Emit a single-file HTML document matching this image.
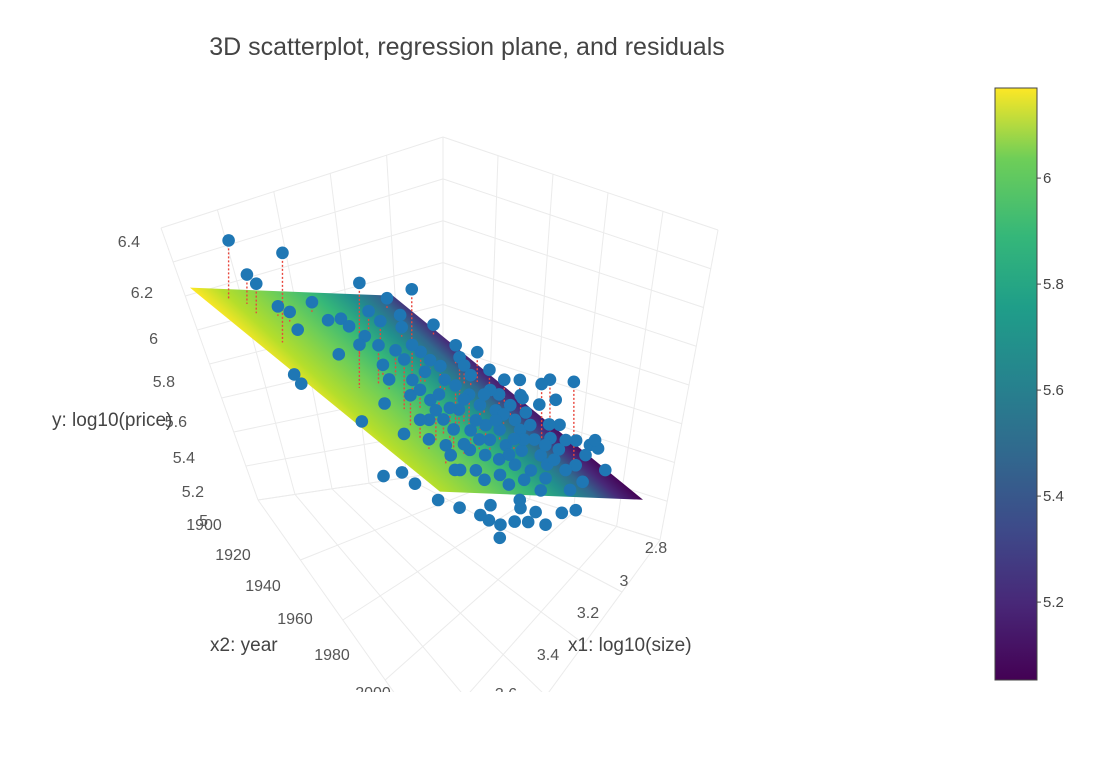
<!DOCTYPE html>
<html><head><meta charset="utf-8"><style>
html,body{margin:0;padding:0;background:#fff;}
svg{display:block;font-family:"Liberation Sans",sans-serif;}
</style></head><body>
<svg id="chart" width="1110" height="774" viewBox="0 0 1110 774" xmlns="http://www.w3.org/2000/svg">
<defs>
<clipPath id="sceneClip"><rect x="0" y="70" width="960" height="622"/></clipPath>
<linearGradient id="cbGrad" x1="0" y1="1" x2="0" y2="0">
<stop offset="0" stop-color="#440154"/><stop offset="0.13" stop-color="#482878"/><stop offset="0.25" stop-color="#3e4989"/><stop offset="0.38" stop-color="#31688e"/><stop offset="0.5" stop-color="#26828e"/><stop offset="0.63" stop-color="#1f9e89"/><stop offset="0.75" stop-color="#35b779"/><stop offset="0.88" stop-color="#6ece58"/><stop offset="1" stop-color="#fde725"/>
</linearGradient>
</defs>
<rect x="0" y="0" width="1110" height="774" fill="#fff"/>
<text x="467" y="55" font-size="25" fill="#444" text-anchor="middle">3D scatterplot, regression plane, and residuals</text>
<g id="scene" clip-path="url(#sceneClip)">
<g id="grid" stroke="#ebebeb" stroke-width="1" fill="none"></g>
<polygon id="plane"/>
<g id="resid"></g>
<g id="pts"></g>
</g>
<g font-size="16" fill="#555" text-anchor="end">
<text x="140" y="247">6.4</text><text x="153" y="298">6.2</text><text x="158" y="344">6</text><text x="175" y="387">5.8</text><text x="187" y="427">5.6</text><text x="195" y="463">5.4</text><text x="204" y="497">5.2</text><text x="208" y="526">5</text>
</g>
<text x="52" y="426" font-size="19" fill="#444">y: log10(price)</text>
<g font-size="16" fill="#555" text-anchor="middle">
<text x="204" y="530">1900</text><text x="233" y="560">1920</text><text x="263" y="591">1940</text><text x="295" y="624">1960</text><text x="332" y="660">1980</text><text x="373" y="698">2000</text>
</g>
<text x="210" y="651" font-size="19" fill="#444">x2: year</text>
<g font-size="16" fill="#555" text-anchor="middle">
<text x="656" y="553">2.8</text><text x="624" y="586">3</text><text x="588" y="618">3.2</text><text x="548" y="660">3.4</text><text x="506" y="699">3.6</text>
</g>
<text x="568" y="651" font-size="19" fill="#444">x1: log10(size)</text>
<rect x="0" y="692" width="960" height="82" fill="#fff"/>
<g>
<rect x="995" y="88" width="42" height="592" fill="url(#cbGrad)" stroke="#444" stroke-width="1"/>
<g id="cbticks" font-size="15" fill="#444"></g>
</g>
</svg>
<script>
// regression data (x1 = log10(size), x2 = year, y = log10(price))
const x1 = [3.489,3.428,3.437,3.482,3.351,3.329,3.17,3.354,3.383,2.797,2.919,3.07,3.102,3.169,3.106,3.117,3.018,2.89,2.893,2.732,3.061,2.969,2.8,2.878,3.024,3.119,3.142,3.278,3.191,3.313,3.198,3.551,3.57,3.295,3.358,3.225,3.179,3.161,3.148,3.078,3.153,3.06,2.99,2.915,2.925,2.902,3.023,3.065,3.192,3.348,3.252,3.265,3.437,3.382,3.148,3.042,3.274,3.169,3.127,3.086,3.016,2.889,2.952,2.808,2.801,2.674,2.633,2.617,2.713,2.817,2.892,2.943,3.056,3.096,3.166,3.208,3.266,2.666,2.563,2.687,2.827,2.71,2.824,2.813,3.322,3.234,3.123,2.983,2.877,2.706,2.79,2.805,2.827,3.689,3.607,3.61,3.598,3.513,3.393,3.355,3.352,3.279,3.219,3.152,3.186,3.233,3.356,2.988,3.07,3.503,3.407,3.423,3.41,3.34,2.759,2.801,2.776,
2.995,2.849,2.756,2.979,3.101,2.951,2.835,2.99,3.174,3.272,3.371,3.092,2.936,2.733,2.871,2.72,2.882,3.136,3.223,3.031,3.396,3.326,3.251,2.805,2.702,3.01,3.433,2.61,3.216,3.431];
const x2 = [1906,1908,1913,1929,1914,1917,1911,1923,1953,1907,1930,1926,1917,1918,1921,1929,1926,1922,1923,1921,1948,1956,1947,1949,1953,1950,1945,1951,1934,1937,1945,1941,1946,1964,1973,1964,1964,1966,1972,1971,1974,1974,1974,1970,1976,1976,1979,1977,1983,1991,1977,1972,1978,1964,1953,1948,1982,1983,1985,1988,1988,1981,1990,1980,1983,1978,1980,1982,1986,1992,1995,1992,1996,1993,1993,1991,1990,1961,1958,1972,1973,1958,1959,1954,2002,2004,2007,2006,2001,1994,1978,1990,1978,1994,1994,2000,2009,2010,2011,2012,2012,2011,2011,2012,2011,2009,2008,2009,2011,1966,1986,1995,2000,2000,1962,1959,1966,
1952,1949,1948,1944,1971,1965,1965,1974,1985,1988,1992,1990,1981,1972,1984,1978,1989,2001,1999,2000,1981,1981,1953,1938,1956,1984,2000,1980,2007,2011];
const yv = [6.326,6.129,6.118,6.381,5.952,5.925,5.823,5.89,6.29,5.547,5.799,5.785,5.726,5.773,5.713,5.716,5.699,5.613,5.563,5.446,5.699,5.647,5.5,5.505,5.63,5.785,5.75,5.905,5.756,5.815,5.722,5.915,5.911,5.918,5.84,5.722,5.639,5.663,5.727,5.627,5.627,5.58,5.503,5.408,5.42,5.355,5.462,5.503,5.603,5.764,5.668,5.65,5.74,5.772,5.655,5.59,5.765,5.634,5.521,5.48,5.403,5.326,5.344,5.268,5.225,5.148,5.107,5.089,5.149,5.208,5.256,5.304,5.38,5.421,5.498,5.539,5.601,5.225,5.156,5.201,5.308,5.272,5.379,5.366,5.562,5.485,5.391,5.285,5.22,5.114,5.523,5.586,5.529,5.808,5.765,5.745,5.705,5.611,5.468,5.362,5.422,5.378,5.332,5.275,5.355,5.398,5.497,5.208,5.266,5.786,5.734,5.764,5.663,5.61,5.343,5.432,5.294,
5.538,5.437,5.389,5.578,5.621,5.503,5.367,5.456,5.557,5.622,5.663,5.45,5.361,5.237,5.302,5.184,5.267,5.42,5.497,5.345,5.793,5.787,5.733,5.49,5.343,5.433,5.68,5.113,5.414,5.521];
// fitted plane coefficients: yhat = b0 + b1*x1 + b2*x2
const coef = [10.259, 0.778, -0.003636];
const x1Range = [2.7, 3.6];
const x2Range = [1900, 2010];
const cbTicks = [5.2, 5.4, 5.6, 5.8, 6];
const cbRange = [5.053, 6.17];

const NS = 'http://www.w3.org/2000/svg';
function yhat(a, b) { return coef[0] + coef[1]*a + coef[2]*b; }
function proj(a, b, c) {
  const da = a - 2.7, db = b - 2010, dc = c - 5.05;
  return [643 + da*(-225.6) + db*2.273, 500 + da*154.4 + db*1.091 - dc*210];
}
function mk(tag, attrs) { const e = document.createElementNS(NS, tag); for (const k in attrs) e.setAttribute(k, attrs[k]); return e; }

const grid = document.getElementById('grid');
function line(p, q) { grid.appendChild(mk('line', {x1:p[0], y1:p[1], x2:q[0], y2:q[1]})); }
function lerp(p, q, t) { return [p[0]+(q[0]-p[0])*t, p[1]+(q[1]-p[1])*t]; }
const B = [443,137], BB = [443,472], L = [161,228], LB = [258,500], R = [718,230], RB = [660,540], F = [470,800];
for (let i = 0; i <= 8; i++) { const t = i/8; line(lerp(B,BB,t), lerp(L,LB,t)); line(lerp(B,BB,t), lerp(R,RB,t)); }
for (let i = 0; i <= 5; i++) { const t = i/5; line(lerp(B,L,t), lerp(BB,LB,t)); line(lerp(B,R,t), lerp(BB,RB,t)); }
for (let i = 0; i <= 5; i++) { const t = i/5; line(lerp(LB,BB,t), lerp(F,RB,t)); line(lerp(RB,BB,t), lerp(F,LB,t)); }

// plane
const corners = [[x1Range[0],x2Range[1]],[x1Range[1],x2Range[1]],[x1Range[1],x2Range[0]],[x1Range[0],x2Range[0]]];
const pc = corners.map(c => proj(c[0], c[1], yhat(c[0], c[1])));
const plane = document.getElementById('plane');
plane.setAttribute('points', pc.map(p => p.join(',')).join(' '));
// shading direction on screen (from purple corner toward lit side)
const dir = [-0.677, 0.736];
const span = (pc[2][0]-pc[0][0])*dir[0] + (pc[2][1]-pc[0][1])*dir[1];
const pg = mk('linearGradient', {id:'planeGrad', gradientUnits:'userSpaceOnUse', x1:pc[0][0], y1:pc[0][1], x2:pc[0][0]+dir[0]*span, y2:pc[0][1]+dir[1]*span});
const planeStops = [[0,'#440154'],[0.1,'#482878'],[0.2,'#31688e'],[0.32,'#21908d'],[0.47,'#35b779'],[0.65,'#6ece58'],[0.87,'#b5de2b'],[1,'#fde725']];
planeStops.forEach(s => pg.appendChild(mk('stop', {offset:s[0], 'stop-color':s[1]})));
document.querySelector('defs').appendChild(pg);
plane.setAttribute('fill', 'url(#planeGrad)');

const rg = document.getElementById('resid'), ptsG = document.getElementById('pts');
for (let i = 0; i < x1.length; i++) {
  const p = proj(x1[i], x2[i], yv[i]);
  const q = proj(x1[i], x2[i], yhat(x1[i], x2[i]));
  if (yv[i] < yhat(x1[i], x2[i])) continue;
  const l = mk('line', {x1:p[0], y1:p[1], x2:q[0], y2:q[1], stroke:'#e8463c', 'stroke-width':1.4, 'stroke-dasharray':'2,2'});
  
  
  rg.appendChild(l);
}
for (let i = 0; i < x1.length; i++) {
  const p = proj(x1[i], x2[i], yv[i]);
  const c = mk('circle', {cx:p[0], cy:p[1], r:6.3, fill:'#1f77b4'});
  
  
  ptsG.appendChild(c);
}
const cbt = document.getElementById('cbticks');
cbTicks.forEach(v => {
  const yy = 680 - (v - cbRange[0])/(cbRange[1]-cbRange[0]) * 592;
  const t = mk('line', {x1:1037, y1:yy, x2:1041, y2:yy, stroke:'#444'});
  
  
  cbt.appendChild(t);
  const tx = mk('text', {x:1043, y:yy+5});
  tx.textContent = String(v);
  
  
  cbt.appendChild(tx);
});
</script>
</body></html>
